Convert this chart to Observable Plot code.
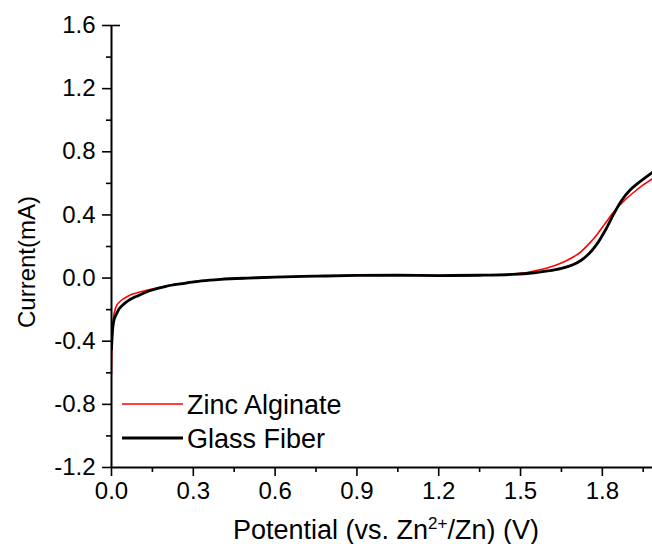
<!DOCTYPE html>
<html>
<head>
<meta charset="utf-8">
<script src="https://cdn.jsdelivr.net/npm/d3@7"></script>
<script src="https://cdn.jsdelivr.net/npm/@observablehq/plot@0.6"></script>
<style>
  html, body { margin: 0; padding: 0; background: #fff; }
  #chart svg { display: block; }
</style>
</head>
<body>
<div id="chart"></div>
<script>
// ---- data ----
const seriesNames = ["Zinc Alginate", "Glass Fiber"];
const seriesColors = ["#ff0000", "#000000"];

const alginateX = [0, 0.002, 0.005, 0.01, 0.02, 0.03, 0.045, 0.06, 0.08, 0.1, 0.14, 0.2, 0.26, 0.33, 0.4, 0.5, 0.6, 0.75, 0.9, 1.05, 1.2, 1.35, 1.5, 1.55, 1.6, 1.65, 1.69, 1.72, 1.75, 1.78, 1.81, 1.84, 1.88, 1.92, 1.95, 1.984];
const alginateY = [-0.61, -0.42, -0.3, -0.22, -0.17, -0.15, -0.13, -0.115, -0.1, -0.09, -0.072, -0.05, -0.033, -0.018, -0.008, 0.0, 0.006, 0.012, 0.017, 0.018, 0.016, 0.018, 0.03, 0.045, 0.065, 0.095, 0.13, 0.165, 0.215, 0.275, 0.345, 0.415, 0.49, 0.55, 0.59, 0.63];

const glassX = [0, 0.002, 0.005, 0.01, 0.02, 0.03, 0.045, 0.06, 0.08, 0.1, 0.14, 0.2, 0.26, 0.33, 0.4, 0.5, 0.6, 0.75, 0.9, 1.05, 1.2, 1.35, 1.47, 1.55, 1.6, 1.65, 1.69, 1.72, 1.75, 1.78, 1.81, 1.84, 1.87, 1.9, 1.93, 1.96, 1.984];
const glassY = [-0.45, -0.38, -0.31, -0.26, -0.22, -0.19, -0.165, -0.145, -0.125, -0.11, -0.08, -0.052, -0.035, -0.018, -0.008, 0.0, 0.006, 0.012, 0.017, 0.018, 0.016, 0.018, 0.023, 0.033, 0.045, 0.062, 0.083, 0.11, 0.152, 0.215, 0.3, 0.4, 0.49, 0.555, 0.6, 0.64, 0.67];

const xTicks = [0, 0.3, 0.6, 0.9, 1.2, 1.5, 1.8];
const xMinorTicks = [0.15, 0.45, 0.75, 1.05, 1.35, 1.65, 1.95];
const yTicks = [-1.2, -0.8, -0.4, 0, 0.4, 0.8, 1.2, 1.6];
const yMinorTicks = [-1.0, -0.6, -0.2, 0.2, 0.6, 1.0, 1.4];
const xDomain = [0, 1.984];
const yDomain = [-1.2, 1.6];

const xLabel = ["Potential (vs. Zn", "2+", "/Zn) (V)"];
const yLabel = "Current(mA)";

// ---- build tables ----
const alginate = alginateX.map((x, i) => ({x, y: alginateY[i]}));
const glass = glassX.map((x, i) => ({x, y: glassY[i]}));
const fmt = d => d.toFixed(1);

const W = 652, H = 544;
const plot = Plot.plot({
  width: W,
  height: H,
  marginLeft: 111,
  marginRight: 0,
  marginTop: 25,
  marginBottom: 77,
  style: {fontFamily: "'Liberation Sans', Arial, sans-serif", fontSize: "24px", color: "#000", background: "#fff"},
  x: {domain: xDomain, label: null},
  y: {domain: yDomain, label: null},
  marks: [
    Plot.axisX(xTicks, {tickSize: 9, tickPadding: 5, tickFormat: fmt, strokeWidth: 1.6, fontSize: 24, label: null}),
    Plot.axisX(xMinorTicks, {tickSize: 5, tickFormat: () => "", strokeWidth: 1.6, label: null}),
    Plot.axisY(yTicks, {tickSize: 9, tickPadding: 7, tickFormat: fmt, strokeWidth: 1.6, fontSize: 24, label: null}),
    Plot.axisY(yMinorTicks, {tickSize: 5, tickFormat: () => "", strokeWidth: 1.6, label: null}),
    Plot.line(alginate, {x: "x", y: "y", stroke: seriesColors[0], strokeWidth: 1.6, curve: "catmull-rom", clip: true}),
    Plot.line(glass, {x: "x", y: "y", stroke: seriesColors[1], strokeWidth: 2.8, curve: "catmull-rom", clip: true}),
    Plot.ruleX([xDomain[0]], {stroke: "#000", strokeWidth: 2}),
    Plot.ruleY([yDomain[0]], {stroke: "#000", strokeWidth: 2}),
    Plot.ruleY([yDomain[1]], {x1: 0, x2: 0.033, stroke: "#000", strokeWidth: 1.6})
  ]
});

const svg = d3.select(plot);
// y axis title
svg.append("text")
  .attr("transform", "translate(27,262) rotate(-90)")
  .attr("text-anchor", "middle")
  .attr("dy", "0.35em")
  .attr("fill", "#000")
  .style("font-size", "24px")
  .text(yLabel);
// x axis title with superscript
const xt = svg.append("text")
  .attr("x", 386).attr("y", 539)
  .attr("text-anchor", "middle")
  .attr("fill", "#000")
  .style("font-size", "27px");
xt.append("tspan").text(xLabel[0]);
xt.append("tspan").attr("dy", -10).style("font-size", "17px").text(xLabel[1]);
xt.append("tspan").attr("dy", 10).text(xLabel[2]);

// legend
const legendRows = [{y: 404, w: 1.6}, {y: 438, w: 2.8}];
legendRows.forEach((r, i) => {
  svg.append("line")
    .attr("x1", 122).attr("x2", 183).attr("y1", r.y).attr("y2", r.y)
    .attr("stroke", seriesColors[i]).attr("stroke-width", r.w);
  svg.append("text")
    .attr("x", 187).attr("y", r.y).attr("dy", "0.36em")
    .attr("text-anchor", "start")
    .attr("fill", "#000")
    .style("font-size", "27px")
    .text(seriesNames[i]);
});

document.getElementById("chart").appendChild(plot);
</script>
</body>
</html>
